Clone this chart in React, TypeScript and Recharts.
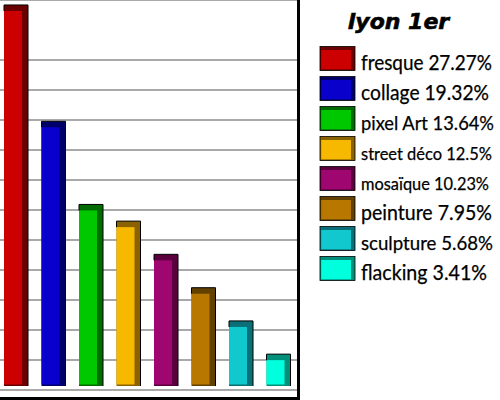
import React from 'react';
import { BarChart, Bar, XAxis, YAxis, CartesianGrid, Cell, Customized } from 'recharts';

const categories = ['fresque', 'collage', 'pixel Art', 'street déco', 'mosaïque', 'peinture', 'sculpture', 'flacking'];
const percents = [27.27, 19.32, 13.64, 12.5, 10.23, 7.95, 5.68, 3.41];
const percentLabels = ['27.27%', '19.32%', '13.64%', '12.5%', '10.23%', '7.95%', '5.68%', '3.41%'];
const faceColors = ['#cc0000', '#0a00cc', '#00c800', '#f7b900', '#a0066f', '#b87800', '#10c8cd', '#00ffdc'];
const darkColors = ['#6b0000', '#00006b', '#006b00', '#8a6300', '#5a003e', '#624000', '#0a6f76', '#008f7a'];
const legendFontSizes = [20.2, 20.6, 19.2, 17.3, 17.6, 20.6, 19.6, 21];
const legendTextWidths = [131, 128, 133, 131, 128, 131, 132, 126];
const yTicks = [0.96, 3.01, 5.06, 7.11, 9.16, 11.21, 13.26, 15.31, 17.36, 19.41, 21.46, 23.51, 25.56, 27.61];
const title = 'lyon 1er';

const data = categories.map((name, i) => ({ name, value: percents[i] }));

const DEPTH = 6;
const LIFT = 4;

const Bar3D = (props: any) => {
  const { x, y, width, height, index } = props;
  const h = height - LIFT;
  if (h <= 0) return null;
  const face = faceColors[index];
  const dark = darkColors[index];
  return (
    <g>
      <rect x={x} y={y} width={width} height={h} fill={dark} />
      <rect x={x} y={y + DEPTH} width={width - DEPTH} height={h - DEPTH - 1.5} fill={face} />
      <path d={`M${x},${y + DEPTH} L${x},${y} L${x + width},${y} L${x + width},${y + h}`} fill="none" stroke="#000" strokeWidth={1} />
    </g>
  );
};

const LegendBlock = () => {
  const sx = 320;
  const sw = 35;
  const sh = 24;
  return (
    <g>
      <text x={398.5} y={28.5} textAnchor="middle" fontFamily="'DejaVu Sans', Verdana, sans-serif" fontWeight="bold" fontStyle="italic" fontSize={22} fill="#000" stroke="#000" strokeWidth={0.6}>
        {title}
      </text>
      {categories.map((c, i) => {
        const top = 46.5 + 30 * i;
        return (
          <g key={c}>
            <rect x={sx} y={top} width={sw} height={sh} fill={darkColors[i]} stroke="#000" strokeWidth={0.8} />
            <rect x={sx + 1.2} y={top + 3.5} width={sw - 5.2} height={sh - 4.7} fill={faceColors[i]} />
            <text x={361} y={top + 23} fontFamily="Lato, 'Open Sans', sans-serif" fontSize={legendFontSizes[i]} fill="#000" stroke="#000" strokeWidth={0.25} textLength={legendTextWidths[i]} lengthAdjust="spacingAndGlyphs">
              {`${c} ${percentLabels[i]}`}
            </text>
          </g>
        );
      })}
    </g>
  );
};

const Frame = () => (
  <g>
    <rect x={300} y={0} width={3} height={400} fill="#000" />
    <rect x={0} y={397} width={303} height={3} fill="#000" />
  </g>
);

export default function App() {
  return (
    <div style={{ position: 'absolute', left: -3, top: 0, width: 503, height: 400, background: '#fff' }}>
      <BarChart width={503} height={400} data={data} margin={{ top: 0, right: 203, bottom: 10, left: 0 }} barSize={24}>
        <CartesianGrid horizontal vertical={false} stroke="#8c8c8c" strokeWidth={1.5} />
        <XAxis dataKey="name" hide />
        <YAxis hide domain={[0.96, 27.61]} ticks={yTicks} allowDataOverflow type="number" />
        <Bar dataKey="value" shape={<Bar3D />} isAnimationActive={false}>
          {data.map((d, i) => (
            <Cell key={d.name} fill={faceColors[i]} />
          ))}
        </Bar>
        <Customized component={Frame} />
        <Customized component={() => <g transform="translate(3,0)"><LegendBlock /></g>} />
      </BarChart>
    </div>
  );
}
